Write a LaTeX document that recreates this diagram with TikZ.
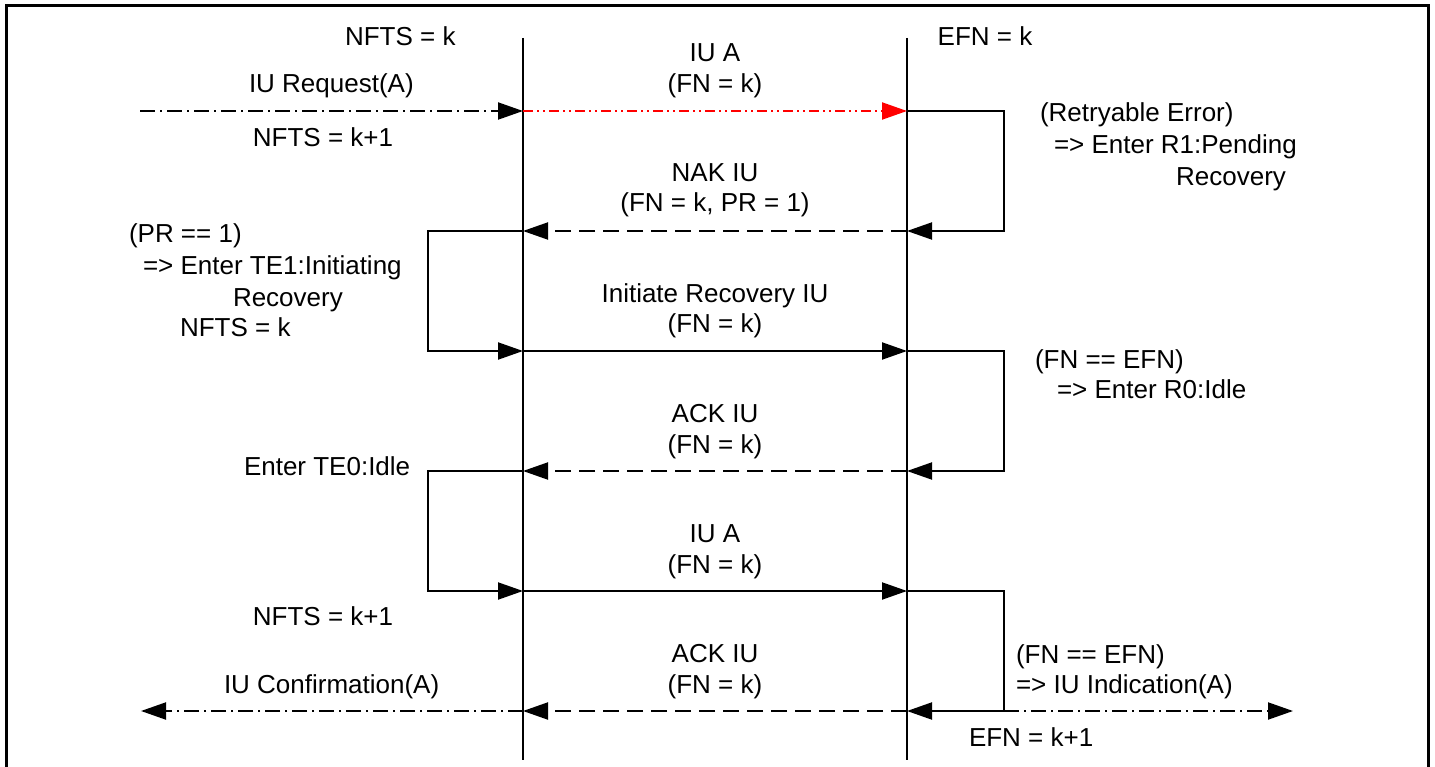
\documentclass[tikz,border=0pt]{standalone}
\usepackage{fontspec}
\setmainfont{Liberation Sans}
\usetikzlibrary{arrows.meta}
\begin{document}
\begin{tikzpicture}[x=1pt,y=-1pt,
  line width=2pt,
  tip/.style={-{Triangle[length=25pt,width=17pt]}},
  lbl/.style={inner sep=0pt,font=\fontsize{26}{31}\selectfont},
  dashdot/.style={dash pattern=on 15pt off 5pt on 2pt off 5pt},
  dashdotdot/.style={dash pattern=on 10pt off 4pt on 2pt off 4pt on 2pt off 4pt},
  dsh/.style={dash pattern=on 16pt off 8pt}]
\useasboundingbox (0,0) rectangle (1435,767);
% frame
\coordinate (F1) at (6,770);
\coordinate (F2) at (6,6);
\coordinate (F3) at (1428,6);
\coordinate (F4) at (1428,770);
\draw[line width=3pt] (F1) -- (F2) -- (F3) -- (F4);
% lifelines
\coordinate (LT) at (523,38);
\coordinate (LB) at (523,760);
\coordinate (RT) at (907,38);
\coordinate (RB) at (907,760);
\draw (LT) -- (LB);
\draw (RT) -- (RB);
% message points
\foreach \i/\y in {1/111,2/231,3/351,4/471,5/591,6/711}{
  \coordinate (L\i) at (523,\y);
  \coordinate (R\i) at (907,\y);
  \coordinate (LX\i) at (428,\y);
  \coordinate (RX\i) at (1004,\y);
}
\coordinate (SRC) at (140,111);
\coordinate (CONF) at (141,711);
\coordinate (IND) at (1293,711);
% arrows
\draw[dashdot,tip] (SRC) -- (L1);
\draw[red,dashdotdot,-{Triangle[length=25pt,width=17pt,fill=red]}] (L1) -- (R1);
\draw[tip] (R1) -- (RX1) -- (RX2) -- (R2);
\draw[dsh,tip] (R2) -- (L2);
\draw[tip] (L2) -- (LX2) -- (LX3) -- (L3);
\draw[tip] (L3) -- (R3);
\draw[tip] (R3) -- (RX3) -- (RX4) -- (R4);
\draw[dsh,tip] (R4) -- (L4);
\draw[tip] (L4) -- (LX4) -- (LX5) -- (L5);
\draw[tip] (L5) -- (R5);
\draw[tip] (R5) -- (RX5) -- (RX6) -- (R6);
\draw[dsh,tip] (R6) -- (L6);
\draw[dashdot,tip] (L6) -- (CONF);
\draw[dashdot,tip] (RX6) -- (IND);
% labels
\node[lbl,anchor=base west] (nfts0) at (344,46) {NFTS = k};
\node[lbl,anchor=base] (iua1) at (715,62) {IU A};
\node[lbl,anchor=base] (fn1) at (715,93) {(FN = k)};
\node[lbl,anchor=base] (efn0) at (985,46) {EFN = k};
\node[lbl,anchor=base west] (req) at (248,93) {IU Request(A)};
\node[lbl,anchor=base] (nfts1) at (323,147) {NFTS = k+1};
\node[lbl,anchor=base west] (ret1) at (1039,122) {(Retryable Error)};
\node[lbl,anchor=base west] (ret2) at (1053,154) {=> Enter R1:Pending};
\node[lbl,anchor=base east] (ret3) at (1287,186) {Recovery};
\node[lbl,anchor=base] (nak1) at (715,182) {NAK IU};
\node[lbl,anchor=base] (nak2) at (715,212) {(FN = k, PR = 1)};
\node[lbl,anchor=base west] (pr1) at (128,243) {(PR == 1)};
\node[lbl,anchor=base west] (pr2) at (142,275) {=> Enter TE1:Initiating};
\node[lbl,anchor=base west] (pr3) at (232,307) {Recovery};
\node[lbl,anchor=base west] (pr4) at (179,336) {NFTS = k};
\node[lbl,anchor=base] (ini1) at (715,302) {Initiate Recovery IU};
\node[lbl,anchor=base] (ini2) at (715,333) {(FN = k)};
\node[lbl,anchor=base west] (efn1) at (1034,368) {(FN == EFN)};
\node[lbl,anchor=base west] (efn2) at (1056,398) {=> Enter R0:Idle};
\node[lbl,anchor=base] (ack1) at (715,422) {ACK IU};
\node[lbl,anchor=base] (ack2) at (715,453) {(FN = k)};
\node[lbl,anchor=base west] (te0) at (243,475) {Enter TE0:Idle};
\node[lbl,anchor=base] (iua2) at (715,542) {IU A};
\node[lbl,anchor=base] (fn2) at (715,573) {(FN = k)};
\node[lbl,anchor=base] (nfts2) at (323,625) {NFTS = k+1};
\node[lbl,anchor=base west] (ind1) at (1015,663) {(FN == EFN)};
\node[lbl,anchor=base west] (ind2) at (1015,693) {=> IU Indication(A)};
\node[lbl,anchor=base] (ack3) at (715,662) {ACK IU};
\node[lbl,anchor=base] (ack4) at (715,693) {(FN = k)};
\node[lbl,anchor=base west] (conf) at (223,693) {IU Confirmation(A)};
\node[lbl,anchor=base west] (efn3) at (968,746) {EFN = k+1};
\end{tikzpicture}
\end{document}
